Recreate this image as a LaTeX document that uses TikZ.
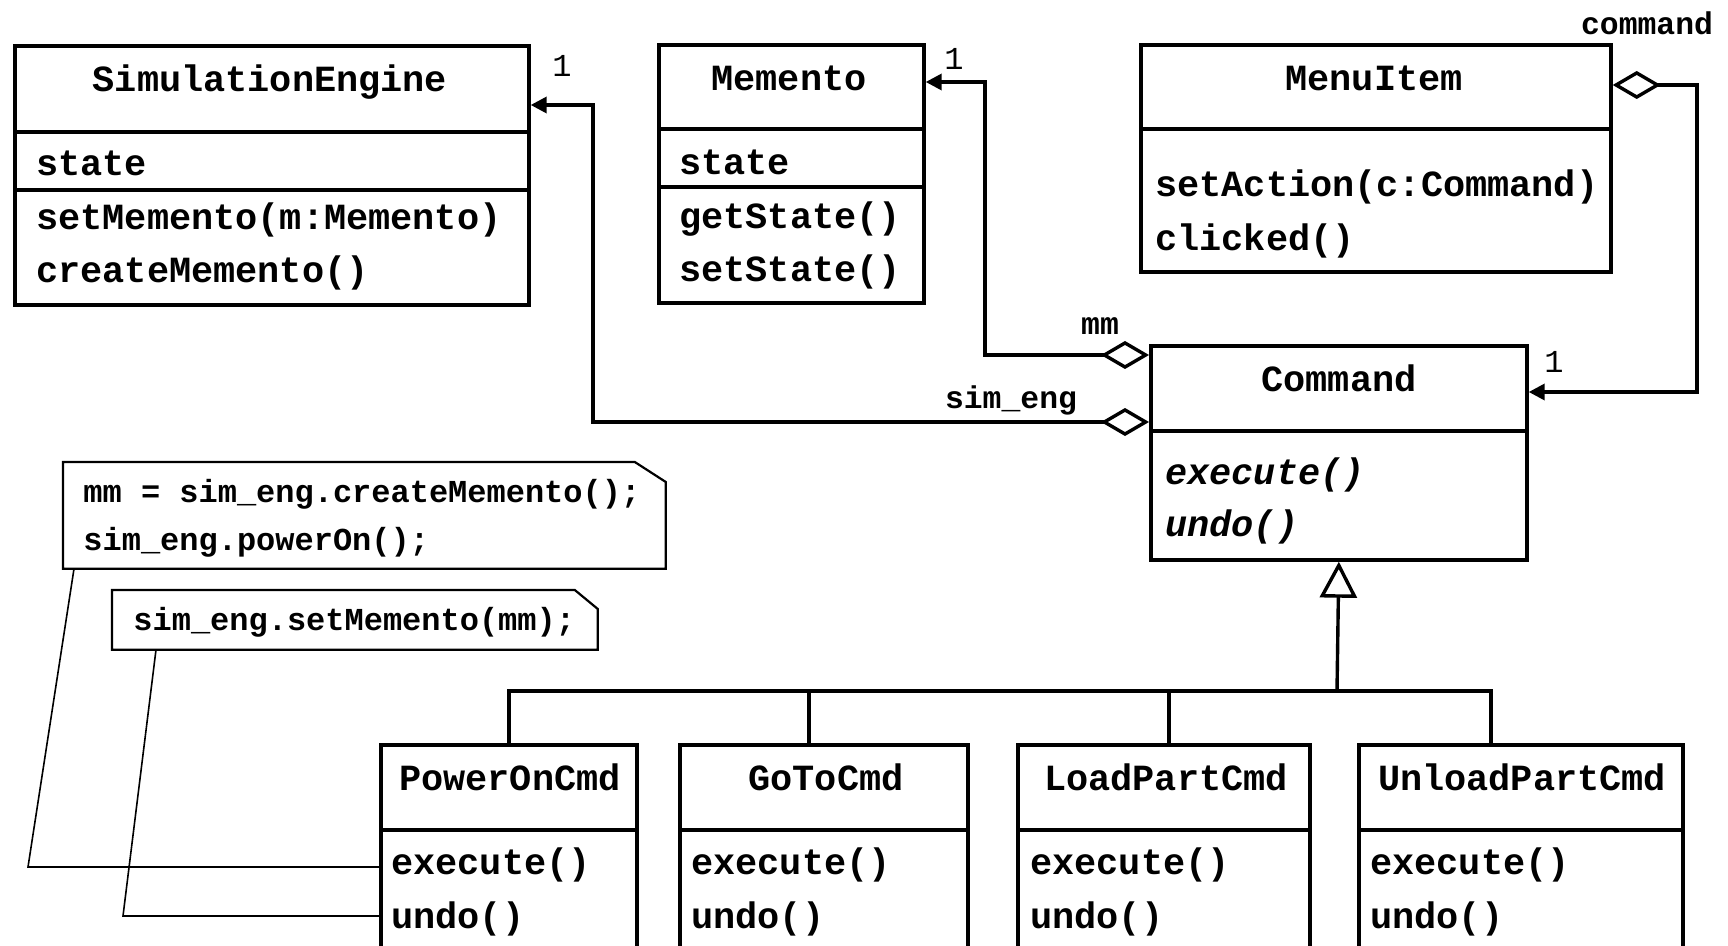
\documentclass[tikz,border=0pt]{standalone}
\usepackage{fontspec}
\newfontfamily\cour{Liberation Mono}
\usetikzlibrary{arrows.meta,calc}
\tikzset{
 cls/.style={draw, line width=1.85pt, inner sep=0pt, anchor=north west},
 sepl/.style={line width=1.7pt},
 big/.style={font=\cour\bfseries\fontsize{18.45pt}{22pt}\selectfont, inner sep=0pt},
 bigi/.style={font=\cour\bfseries\itshape\fontsize{18.45pt}{22pt}\selectfont, inner sep=0pt},
 lbl/.style={font=\cour\bfseries\fontsize{15.7pt}{18pt}\selectfont, inner sep=0pt},
 lbln/.style={font=\cour\fontsize{16pt}{18pt}\selectfont, inner sep=0pt},
 notet/.style={font=\cour\bfseries\fontsize{16pt}{19pt}\selectfont, inner sep=0pt, anchor=base west},
 conn/.style={line width=1.7pt},
 agg/.style={line width=1.7pt, {Diamond[open, length=24pt, width=14pt]}-{Triangle[length=8pt, width=8pt]}},
 notebox/.style={line width=1.1pt},
 noteln/.style={line width=0.8pt},
 ghost/.style={inner sep=0pt, anchor=north west},
}
\begin{document}
\begin{tikzpicture}[x=0.5pt,y=-0.5pt]
\fill[white] (0,0) rectangle (1728,946);
\path[use as bounding box] (0,0) rectangle (1728,946);
\clip (0,0) rectangle (1728,946);

% ---------- classes ----------
\node[cls, minimum width=257pt, minimum height=129.5pt] (simeng) at (13,44) {};
\draw[sepl] ($(simeng.north west)+(0,88)$) -- ($(simeng.north east)+(0,88)$);
\draw[sepl] ($(simeng.north west)+(0,146)$) -- ($(simeng.north east)+(0,146)$);
\node[big, anchor=base] (se0) at (270,92) {SimulationEngine};
\node[big, anchor=base west] (se1) at (36,176) {state};
\node[big, anchor=base west] (se2) at (36,230) {setMemento(m:Memento)};
\node[big, anchor=base west] (se3) at (36,283) {createMemento()};

\node[cls, minimum width=132.5pt, minimum height=129pt] (mem) at (657,43) {};
\draw[sepl] ($(mem.north west)+(0,86)$) -- ($(mem.north east)+(0,86)$);
\draw[sepl] ($(mem.north west)+(0,144)$) -- ($(mem.north east)+(0,144)$);
\node[big, anchor=base] (me0) at (789,91) {Memento};
\node[big, anchor=base west] (me1) at (679,175) {state};
\node[big, anchor=base west] (me2) at (679,229) {getState()};
\node[big, anchor=base west] (me3) at (679,282) {setState()};

\node[cls, minimum width=235pt, minimum height=113.5pt] (menu) at (1139,43) {};
\draw[sepl] ($(menu.north west)+(0,86)$) -- ($(menu.north east)+(0,86)$);
\node[big, anchor=base] (mi0) at (1374,91) {MenuItem};
\node[big, anchor=base west] (mi1) at (1155,197) {setAction(c:Command)};
\node[big, anchor=base west] (mi2) at (1155,251) {clicked()};

\node[cls, minimum width=188pt, minimum height=107pt] (cmd) at (1149,344) {};
\draw[sepl] ($(cmd.north west)+(0,87)$) -- ($(cmd.north east)+(0,87)$);
\node[big, anchor=base] (cm0) at (1339,392) {Command};
\node[bigi, anchor=base west] (cm1) at (1165,484) {execute()};
\node[bigi, anchor=base west] (cm2) at (1165,536) {undo()};

% ---------- subclasses ----------
\node[cls, minimum width=128pt, minimum height=108.5pt] (poc) at (379,743) {};
\node[cls, minimum width=144pt, minimum height=108.5pt] (goto) at (678,743) {};
\node[cls, minimum width=146pt, minimum height=108.5pt] (load) at (1016,743) {};
\node[cls, minimum width=162pt, minimum height=108.5pt] (unl) at (1357,743) {};
\foreach \n in {poc,goto,load,unl}{
  \draw[sepl] ($(\n.north west)+(0,87)$) -- ($(\n.north east)+(0,87)$);
}
\node[big, anchor=base] (p0) at (510,790) {PowerOnCmd};
\node[big, anchor=base west] (p1) at (391,874) {execute()};
\node[big, anchor=base west] (p2) at (391,928) {undo()};
\node[big, anchor=base] (g0) at (826,790) {GoToCmd};
\node[big, anchor=base west] (g1) at (691,874) {execute()};
\node[big, anchor=base west] (g2) at (691,928) {undo()};
\node[big, anchor=base] (l0) at (1166,790) {LoadPartCmd};
\node[big, anchor=base west] (l1) at (1030,874) {execute()};
\node[big, anchor=base west] (l2) at (1030,928) {undo()};
\node[big, anchor=base] (u0) at (1522,790) {UnloadPartCmd};
\node[big, anchor=base west] (u1) at (1370,874) {execute()};
\node[big, anchor=base west] (u2) at (1370,928) {undo()};

% ---------- generalization ----------
\coordinate (bus) at (1337,691);
\draw[conn] (poc.north) |- (bus);
\draw[conn] ($(goto.north)+(-15,0)$) |- (bus);
\draw[conn] ($(load.north)+(5,0)$) |- (bus);
\draw[conn] ($(unl.north)+(-30,0)$) |- (bus);
\draw[conn, -{Triangle[open, length=18pt, width=18.5pt]}] (bus) -- (cmd.south);

% ---------- aggregations ----------
\coordinate (mmA) at ($(cmd.north west)+(0,11)$);
\coordinate (mmB) at ($(mem.north east)+(0,39)$);
\draw[agg] (mmA) -- (985,355) -- (985,82) -- (mmB);
\coordinate (seA) at ($(cmd.north west)+(0,78)$);
\coordinate (seB) at ($(simeng.north east)+(0,61)$);
\draw[agg] (seA) -- (593,422) -- (593,105) -- (seB);
\coordinate (coA) at ($(menu.north east)+(0,42)$);
\coordinate (coB) at ($(cmd.north east)+(0,48)$);
\draw[agg] (coA) -- (1697,85) -- (1697,392) -- (coB);

\node[lbl] (lmm) at (1100,326) {mm};
\node[lbl] (lse) at (1011,400) {sim\_eng};
\node[lbl] (lco) at (1647,23) {command};
\node[lbln] (one1) at (562,66) {1};
\node[lbln] (one2) at (954,59) {1};
\node[lbln] (one3) at (1554,362) {1};

% ---------- notes ----------
\node[ghost, minimum width=301pt, minimum height=53pt] (n1) at (63,462) {};
\draw[notebox] (n1.south west) -- (n1.north west) -- ($(n1.north east)+(-31,0)$) -- ($(n1.north east)+(0,20)$) -- (n1.south east) -- cycle;
\node[notet] (n1a) at (83,502) {mm = sim\_eng.createMemento();};
\node[notet] (n1b) at (83,550) {sim\_eng.powerOn();};

\node[ghost, minimum width=242.5pt, minimum height=29.5pt] (n2) at (112,590) {};
\draw[notebox] (n2.south west) -- (n2.north west) -- ($(n2.north east)+(-23,0)$) -- ($(n2.north east)+(0,19)$) -- (n2.south east) -- cycle;
\node[notet] (n2a) at (133,630) {sim\_eng.setMemento(mm);};

\draw[noteln] ($(n1.south west)+(11,0)$) -- (28,867) -- ($(poc.north west)+(0,124)$);
\draw[noteln] ($(n2.south west)+(44,0)$) -- (123,916) -- ($(poc.north west)+(0,173)$);
\end{tikzpicture}
\end{document}
